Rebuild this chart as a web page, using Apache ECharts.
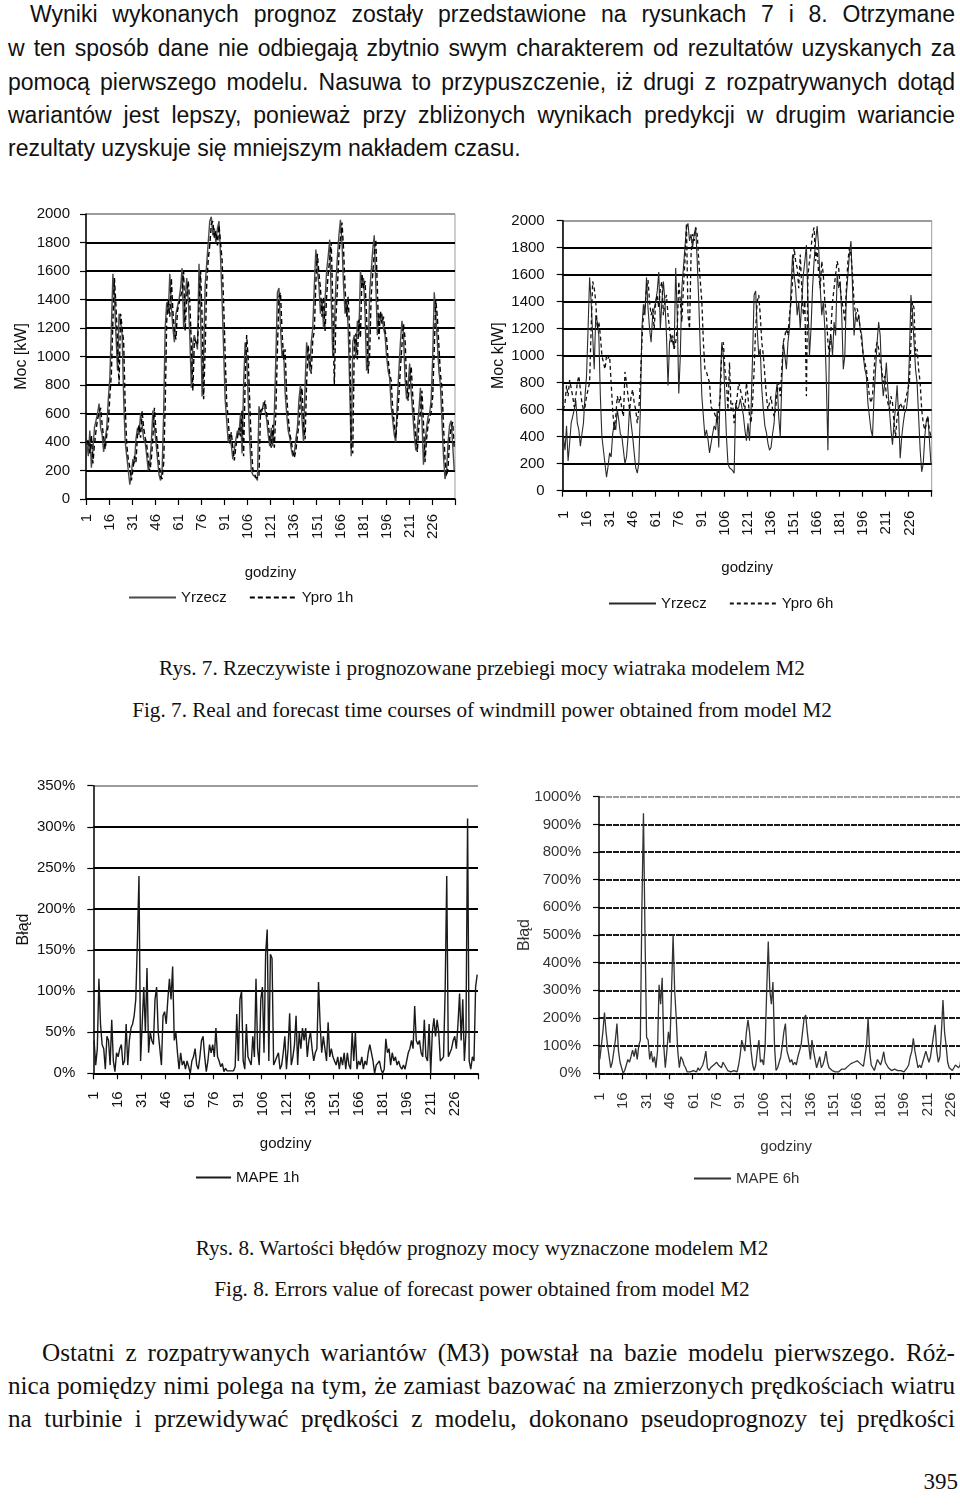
<!DOCTYPE html>
<html><head><meta charset="utf-8">
<script src="https://cdn.jsdelivr.net/npm/echarts@6/dist/echarts.min.js"></script>
<style>
html,body{margin:0;padding:0;background:#fff;}
body{width:960px;height:1506px;position:relative;overflow:hidden;}
.ln{position:absolute;height:34px;line-height:34px;color:#111;text-align:justify;text-align-last:justify;}
.sans{font-family:'Liberation Sans',Arial,sans-serif;font-size:23px;}
.serif{font-family:'Liberation Serif','Times New Roman',serif;font-size:25.2px;}
.cap{position:absolute;left:0;width:964px;text-align:center;font-family:'Liberation Serif','Times New Roman',serif;font-size:21.2px;color:#111;height:26px;line-height:26px;}
.ch{position:absolute;}
</style></head>
<body>
<div class="ln sans" style="left:30px;width:925px;top:-3px;">Wyniki wykonanych prognoz zostały przedstawione na rysunkach 7 i 8. Otrzymane</div>
<div class="ln sans" style="left:8px;width:947px;top:31px;">w ten sposób dane nie odbiegają zbytnio swym charakterem od rezultatów uzyskanych za</div>
<div class="ln sans" style="left:8px;width:947px;top:65px;">pomocą pierwszego modelu. Nasuwa to przypuszczenie, iż drugi z rozpatrywanych dotąd</div>
<div class="ln sans" style="left:8px;width:947px;top:98px;">wariantów jest lepszy, ponieważ przy zbliżonych wynikach predykcji w drugim wariancie</div>
<div class="ln sans" style="left:8px;width:947px;top:131px;text-align:left;text-align-last:left;">rezultaty uzyskuje się mniejszym nakładem czasu.</div>

<div id="c1" class="ch" style="left:0;top:200px;width:480px;height:420px;"></div>
<div id="c2" class="ch" style="left:480px;top:200px;width:480px;height:420px;"></div>

<div class="cap" style="top:655px;">Rys. 7. Rzeczywiste i prognozowane przebiegi mocy wiatraka modelem M2</div>
<div class="cap" style="top:697px;">Fig. 7. Real and forecast time courses of windmill power obtained from model M2</div>

<div id="c3" class="ch" style="left:0;top:770px;width:480px;height:430px;"></div>
<div id="c4" class="ch" style="left:480px;top:770px;width:520px;height:430px;"></div>

<div class="cap" style="top:1235px;">Rys. 8. Wartości błędów prognozy mocy wyznaczone modelem M2</div>
<div class="cap" style="top:1276px;">Fig. 8. Errors value of forecast power obtained from model M2</div>

<div class="ln serif" style="left:42px;width:913px;top:1336px;">Ostatni z rozpatrywanych wariantów (M3) powstał na bazie modelu pierwszego. Róż-</div>
<div class="ln serif" style="left:8px;width:947px;top:1369px;">nica pomiędzy nimi polega na tym, że zamiast bazować na zmierzonych prędkościach wiatru</div>
<div class="ln serif" style="left:8px;width:947px;top:1402px;">na turbinie i przewidywać prędkości z modelu, dokonano pseudoprognozy tej prędkości</div>
<div class="serif" style="position:absolute;right:2px;top:1468px;font-size:23px;color:#111;line-height:28px;">395</div>

<script>
// ---- categories / tick labels ----
const hours = Array.from({length: 240}, (_, i) => String(i + 1));
const powerScale = {min: 0, max: 2000, interval: 200};
const mape1Scale = {min: 0, max: 350, interval: 50};
const mape6Scale = {min: 0, max: 1000, interval: 100};

// ---- series values ----
const yrzecz = [
400,300,480,220,350,500,550,600,670,500,450,330,420,500,700,850,1200,1580,1400,1150,
900,1300,1250,1150,700,400,300,200,100,180,280,250,420,500,450,600,520,420,400,300,
200,250,400,620,500,400,280,170,130,200,600,1200,1380,1300,1580,1350,1200,1100,1300,1350,
1400,1480,1620,1200,1400,1550,1400,1150,780,1100,1150,1100,1050,1650,1300,720,1000,1500,1650,1800,
1950,1980,1850,1900,1800,1900,1950,1700,1400,1050,700,550,400,450,380,280,350,420,480,450,
600,320,800,1100,1000,700,400,200,170,160,150,130,650,600,620,680,620,560,450,370,
500,370,600,1000,1450,1480,1200,1000,1050,750,600,480,430,350,300,320,420,500,700,800,
550,400,800,1100,1000,900,1100,1200,1500,1750,1600,1500,1300,1400,1200,1400,1600,1700,1820,1400,
1000,1200,1500,1700,1850,1960,1800,1500,1300,1400,1200,800,300,1100,1150,1000,1250,1150,1600,1500,
1550,1300,900,1000,1450,1600,1750,1850,1500,1150,1300,1250,1300,1200,1150,1000,900,850,650,550,
450,400,700,900,1100,1250,1150,850,700,800,950,750,600,450,340,500,620,780,550,240,
400,500,580,600,700,1000,1450,1300,1100,900,800,550,300,140,200,400,520,550,380,200];

const ypro1h = [
380,420,320,450,250,380,480,560,600,640,520,430,350,450,520,720,880,1250,1550,1350,
1100,800,1300,1200,1100,650,380,280,220,130,200,300,260,450,520,430,620,500,430,380,
280,190,280,430,640,480,380,260,160,140,250,650,1250,1400,1280,1550,1320,1180,1120,1320,
1330,1420,1460,1600,1180,1420,1530,1380,1100,760,1120,1130,1080,1070,1600,1280,700,1050,1500,1680,
1780,1930,1950,1830,1880,1780,1920,1930,1680,1380,1020,680,560,390,470,360,270,370,430,500,
440,620,300,820,1150,980,680,380,210,180,150,160,150,620,610,640,690,600,540,430,
360,520,360,620,1050,1420,1450,1180,980,1050,730,580,460,410,330,290,340,440,520,720,
780,520,420,820,1080,980,880,1120,1180,1520,1720,1580,1480,1280,1420,1180,1420,1580,1680,1800,
1380,800,1250,1480,1720,1830,1940,1760,1480,1280,1420,1180,360,320,1080,1160,980,1260,1130,1580,
1480,1530,1280,880,1020,1430,1580,1730,1820,1480,1120,1320,1230,1280,1180,1130,980,880,830,630,
530,430,420,720,920,1080,1230,1130,830,690,820,930,730,580,430,330,520,600,760,530,
260,420,520,570,610,720,1050,1400,1280,1080,880,780,520,280,160,220,420,500,540,360];

const ypro6h = [
600,650,780,700,820,760,700,620,700,800,850,750,650,600,620,700,750,800,1200,1550,
1500,1400,1200,1250,1150,1000,950,900,1000,980,1000,800,600,450,550,700,650,700,600,550,
880,800,700,600,700,750,650,600,500,600,800,1100,1300,1350,1500,1560,1400,1300,1350,1200,
1400,1450,1350,1500,1550,1300,1400,1450,1300,1200,1100,1150,1050,1100,1200,1550,1400,1250,1500,1700,
1980,1300,1200,1750,1900,1850,1950,1900,1700,1550,1400,1100,900,880,870,800,620,600,580,550,
500,600,700,1050,1100,900,800,600,950,600,650,500,600,700,800,750,700,650,600,800,
700,550,500,650,900,1200,1400,1450,1300,1100,1000,850,700,600,650,700,600,550,600,750,
800,700,900,1100,1150,1200,1150,1300,1400,1550,1800,1700,1650,1500,1750,1500,1300,1400,700,1600,
1700,1800,1900,1950,1700,1800,1600,1500,1700,1600,1400,1300,1100,1000,1200,1400,1500,1600,1700,1650,
1500,1400,1350,1250,1500,1700,1800,1750,1600,1400,1300,1350,1300,1200,1100,1000,950,900,800,700,
650,700,900,1050,1100,1050,950,900,800,850,700,650,600,700,650,500,400,550,600,650,
650,600,650,700,750,800,1100,1400,1350,1000,1050,900,800,600,500,450,500,550,450,400];

const mape1h = [
40,10,30,115,60,35,30,5,45,40,10,65,15,2,25,20,30,35,10,15,
60,10,40,55,60,70,90,160,240,15,60,105,50,128,25,50,40,35,90,105,
50,30,10,70,75,60,90,115,90,130,40,50,25,5,25,10,15,5,15,8,
0,15,20,30,10,5,20,40,45,20,2,15,35,25,35,20,55,20,15,8,
12,2,6,3,5,3,5,3,8,72,15,90,100,15,5,60,20,15,10,45,
20,115,30,10,90,105,25,145,175,15,145,140,10,15,20,25,5,10,25,45,
5,30,73,10,20,35,70,10,50,30,55,40,55,20,40,50,30,15,25,30,
111,60,25,45,30,15,62,20,30,20,15,10,20,5,20,10,25,5,25,10,
5,50,15,50,5,15,10,20,5,15,10,25,35,35,15,0,10,10,15,5,
0,5,42,25,30,10,25,15,20,10,15,8,5,10,5,5,25,30,40,30,
82,40,35,40,25,20,65,20,15,60,0,50,67,45,65,50,15,15,20,100,
240,20,20,30,40,45,30,60,97,40,90,15,50,310,15,5,20,15,105,120];

const mape6h = [
50,100,150,220,150,100,60,20,40,80,120,180,80,40,20,0,10,30,50,40,
60,84,60,90,50,100,120,600,940,500,130,120,50,80,40,60,20,80,320,250,
345,100,20,80,150,110,300,500,300,200,80,20,60,50,30,20,5,0,5,5,
10,15,5,20,10,20,30,50,80,20,10,20,15,30,25,40,30,30,20,40,
30,20,10,5,5,5,10,5,5,30,66,120,100,80,150,193,150,80,30,10,
30,80,120,40,50,30,100,300,476,300,250,330,100,10,20,40,60,100,150,180,
80,60,40,50,30,40,30,60,80,100,150,200,211,150,100,50,120,80,50,20,
40,60,20,30,50,80,40,20,15,10,15,5,10,5,10,15,10,15,20,25,
30,35,40,40,45,45,40,35,30,25,20,100,199,80,30,20,10,30,50,40,
30,50,78,40,30,20,15,10,5,15,20,10,5,10,5,5,10,20,30,60,
80,126,80,50,20,30,20,40,60,80,60,40,60,100,140,175,80,40,60,150,
265,150,100,40,20,15,10,20,30,25,20,30,80,150,100,50,30,60,40,20];

// ---- drawing ----
const FONT = "'Liberation Sans', Arial, sans-serif";

function makeChart(id, c) {
  const chart = echarts.init(document.getElementById(id), null, {renderer: 'canvas'});
  const n = Math.round((c.scale.max - c.scale.min) / c.scale.interval) + 1;
  const splitColors = [];
  for (let k = 0; k < n; k++) splitColors.push(k === n - 1 ? '#9c9c9c' : c.gridColor);
  chart.setOption({
    animation: false,
    grid: {
      left: c.grid[0], top: c.grid[1], width: c.grid[2], height: c.grid[3],
      show: c.border, borderColor: '#9c9c9c', borderWidth: 1, backgroundColor: 'transparent',
      containLabel: false, outerBoundsMode: 'none'
    },
    legend: {
      left: c.legend[0], top: c.legend[1], orient: 'horizontal', padding: 0,
      itemWidth: c.legend[2], itemHeight: 12, itemGap: 22,
      itemStyle: {opacity: 0},
      textStyle: {fontFamily: FONT, fontSize: 15, color: c.textColor},
      data: c.series.map(s => s.name)
    },
    xAxis: {
      type: 'category', data: hours, boundaryGap: true,
      name: 'godziny', nameLocation: 'middle', nameGap: c.xNameGap, nameMoveOverlap: false,
      nameTextStyle: {fontFamily: FONT, fontSize: 15, color: c.textColor},
      axisLine: {show: true, lineStyle: {color: '#000', width: 1.5}},
      axisTick: {show: true, interval: 14, length: 6, lineStyle: {color: '#000', width: 1.2}},
      axisLabel: {interval: 14, rotate: 90, margin: c.xMargin, fontFamily: FONT, fontSize: 15, color: c.textColor},
      splitLine: {show: false}
    },
    yAxis: {
      type: 'value', min: c.scale.min, max: c.scale.max, interval: c.scale.interval,
      name: c.yName, nameLocation: 'middle', nameGap: c.yNameGap, nameMoveOverlap: false,
      nameTextStyle: {fontFamily: FONT, fontSize: 16, color: c.textColor},
      axisLine: {show: true, lineStyle: {color: '#000', width: 1.5}},
      axisTick: {show: true, length: 6, lineStyle: {color: '#000', width: 1.2}},
      axisLabel: {margin: c.yMargin, fontFamily: FONT, fontSize: 15, color: c.textColor,
                  formatter: v => String(v) + (c.percent ? '%' : '')},
      splitLine: {show: true, lineStyle: {color: splitColors, width: c.gridWidth, type: c.gridType}}
    },
    series: c.series.map(s => ({
      type: 'line', name: s.name, data: s.data, symbol: 'none', showSymbol: false,
      lineStyle: {color: s.color, width: s.width, type: s.type},
      itemStyle: {color: s.color}, z: s.z || 2, silent: true
    }))
  });
}

makeChart('c1', {
  grid: [86, 14, 369, 285], border: true, scale: powerScale,
  yName: 'Moc [kW]', yNameGap: 56, yMargin: 16, xMargin: 15, xNameGap: 66,
  legend: [128, 390, 47], textColor: '#111', gridColor: '#000', gridWidth: 1.8, gridType: 'solid',
  series: [
    {name: 'Yrzecz', data: yrzecz, color: '#4a4a4a', width: 1.4, type: 'solid', z: 2},
    {name: 'Ypro 1h', data: ypro1h, color: '#000', width: 1.4, type: [5, 3], z: 3}
  ]
});

makeChart('c2', {
  grid: [82.7, 20.7, 369, 270], border: true, scale: powerScale,
  yName: 'Moc k[W]', yNameGap: 56, yMargin: 18, xMargin: 20, xNameGap: 70,
  legend: [128, 396, 47], textColor: '#111', gridColor: '#000', gridWidth: 1.8, gridType: 'solid',
  series: [
    {name: 'Yrzecz', data: yrzecz, color: '#2a2a2a', width: 1.1, type: 'solid', z: 2},
    {name: 'Ypro 6h', data: ypro6h, color: '#111', width: 1.3, type: [4, 3], z: 3}
  ]
});

makeChart('c3', {
  grid: [93.3, 15.7, 384.7, 287.6], border: false, scale: mape1Scale, percent: true,
  yName: 'Błąd', yNameGap: 62, yMargin: 18, xMargin: 18, xNameGap: 63,
  legend: [195, 400, 35], textColor: '#111', gridColor: '#000', gridWidth: 1.8, gridType: 'solid',
  series: [
    {name: 'MAPE 1h', data: mape1h, color: '#1a1a1a', width: 1.4, type: 'solid'}
  ]
});

makeChart('c4', {
  grid: [119, 26.7, 374.4, 276.6], border: false, scale: mape6Scale, percent: true,
  yName: 'Błąd', yNameGap: 66, yMargin: 18, xMargin: 19, xNameGap: 66,
  legend: [213, 401, 37], textColor: '#333', gridColor: '#1a1a1a', gridWidth: 2, gridType: [6, 1],
  series: [
    {name: 'MAPE 6h', data: mape6h, color: '#333', width: 1.3, type: 'solid'}
  ]
});
</script>
</body></html>
